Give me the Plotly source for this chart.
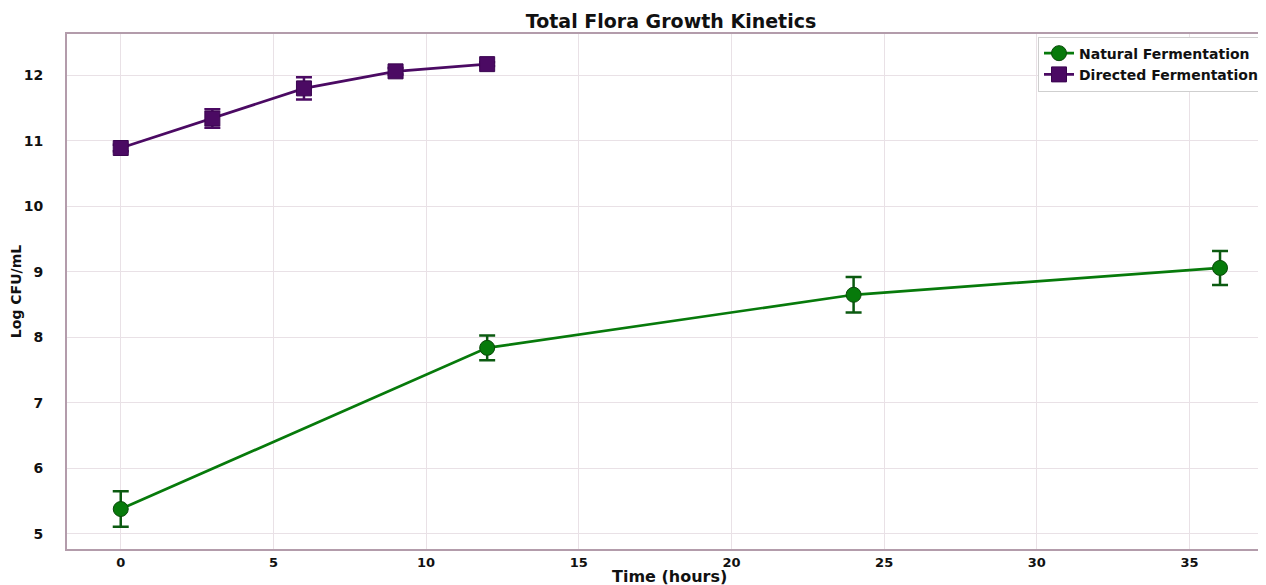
import plotly.graph_objects as go

# Data
nat_time = [0, 12, 24, 36]
nat_cfu = [5.38, 7.84, 8.65, 9.06]
nat_err = [0.27, 0.19, 0.27, 0.26]

dir_time = [0, 3, 6, 9, 12]
dir_cfu = [10.89, 11.34, 11.80, 12.06, 12.17]
dir_err = [0.05, 0.14, 0.17, 0.05, 0.03]

x_ticks = [0, 5, 10, 15, 20, 25, 30, 35]
y_ticks = [5, 6, 7, 8, 9, 10, 11, 12]

GREEN = "#077a0b"
PURPLE = "#4b0a63"
SPINE = "#b39cab"
GRID = "#e9e1e6"

fig = go.Figure()
fig.add_trace(go.Scatter(
    x=nat_time, y=nat_cfu, name="<b>Natural Fermentation</b>", mode="lines+markers",
    line=dict(color=GREEN, width=2.7),
    marker=dict(symbol="circle", size=15, color=GREEN, line=dict(color="#0a4a0a", width=1)),
    error_y=dict(type="data", array=nat_err, visible=True, color="#0b5a10", thickness=2.5, width=8),
))
fig.add_trace(go.Scatter(
    x=dir_time, y=dir_cfu, name="<b>Directed Fermentation</b>", mode="lines+markers",
    line=dict(color=PURPLE, width=2.7),
    marker=dict(symbol="square", size=15, color=PURPLE, line=dict(color="#3a0550", width=1)),
    error_y=dict(type="data", array=dir_err, visible=True, color=PURPLE, thickness=2.5, width=8),
))

PLOT_TOP, PLOT_BOTTOM = 34, 549

fig.update_layout(
    width=1258, height=577,
    margin=dict(l=59, r=0, t=26, b=36),
    paper_bgcolor="white", plot_bgcolor="white",
    font=dict(family="DejaVu Sans", color="#111111"),
    title=dict(text="<b>Total Flora Growth Kinetics</b>", x=(671 - 8) / 1258, xanchor="center",
               y=1 - 13 / 577, yanchor="middle", font=dict(size=19, color="#111111")),
    showlegend=True,
    legend=dict(x=1.0, xanchor="right", y=0.995, yanchor="top",
                bgcolor="white", bordercolor="#cfcfcf", borderwidth=1,
                font=dict(size=14, color="#111111"), tracegroupgap=0,
                itemwidth=30),
    xaxis=dict(range=[-1.76, 37.44], tickvals=x_ticks, ticktext=[f"<b>{v}</b>" for v in x_ticks],
               showgrid=True, gridcolor=GRID, gridwidth=1, zeroline=False,
               showline=True, linecolor=SPINE, linewidth=2, mirror=True,
               ticks="", tickfont=dict(size=13), ticklabelstandoff=0),
    yaxis=dict(range=[4.77, 12.63], tickvals=y_ticks, ticktext=[f"<b>{v}</b>" for v in y_ticks],
               showgrid=True, gridcolor=GRID, gridwidth=1, zeroline=False,
               showline=True, linecolor=SPINE, linewidth=2, mirror=True,
               ticks="", tickfont=dict(size=14), ticklabelstandoff=19,
               title=dict(text="<b>Log CFU/mL</b>", font=dict(size=14), standoff=6)),
    annotations=[dict(
        text="<b>Time (hours)</b>", xref="paper", yref="paper",
        x=(671 - 67) / 1199, y=(PLOT_BOTTOM - 576) / (PLOT_BOTTOM - PLOT_TOP),
        xanchor="center", yanchor="middle", showarrow=False,
        font=dict(size=16, color="#111111"),
    )],
)

fig.write_html("out.html")
